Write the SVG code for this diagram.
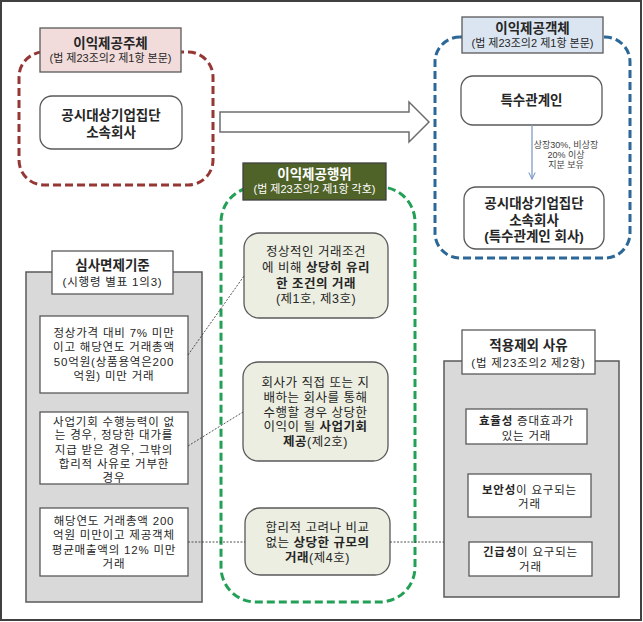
<svg xmlns="http://www.w3.org/2000/svg" width="643" height="622" viewBox="0 0 643 622">
<defs>
<style>
text{font-family:"Liberation Sans","Noto Sans CJK KR",sans-serif;fill:#262626;text-anchor:middle}
.t{font-size:13.5px;font-weight:bold}
.s{font-size:11px}
.g{font-size:12.5px;letter-spacing:0.5px}
.l{font-size:11.5px;letter-spacing:0.8px}
.b{font-weight:bold}
.box{fill:#fff;stroke:#595959;stroke-width:1.3}
.gbox{fill:#ebeee0;stroke:#595959;stroke-width:1.3}
.panel{fill:#d9d9d9;stroke:#595959;stroke-width:1.5}
.dash{fill:none;stroke-width:3;stroke-dasharray:8 4}
.conn{fill:none;stroke:#404040;stroke-width:0.9;stroke-dasharray:2 1.5}
.lab{font-size:9px;fill:#404040}
</style>
<marker id="ah" viewBox="0 0 10 10" refX="9" refY="5" markerWidth="8" markerHeight="8" orient="auto" markerUnits="userSpaceOnUse">
<path d="M1,1 L9,5 L1,9" fill="none" stroke="#7f9cc6" stroke-width="1.3"/>
</marker>
</defs>
<rect x="0" y="0" width="643" height="622" fill="#fff"/>
<rect x="1" y="1" width="640" height="619" fill="none" stroke="#404040" stroke-width="2"/>

<g id="provider">
<rect class="dash" x="19" y="52" width="194" height="133" rx="25" stroke="#953735"/>
<rect x="40" y="28" width="141" height="44" fill="#f2dcdb" stroke="#595959" stroke-width="1.3"/>
<text class="t" x="110.5" y="48">이익제공주체</text>
<text class="s" x="110.5" y="62">(법 제23조의2 제1항 본문)</text>
<rect class="box" x="40" y="96" width="142" height="53" rx="12"/>
<text class="t" x="111" y="120">공시대상기업집단</text>
<text class="t" x="111" y="137">소속회사</text>
</g>

<g id="big-arrow">
<path d="M220,112 L409,112 L409,102 L429,122 L409,142 L409,132 L220,132 Z" fill="#fff" stroke="#6d6d6d" stroke-width="1.5"/>
</g>

<g id="receiver">
<rect class="dash" x="435" y="37" width="195" height="221" rx="25" stroke="#2b6797"/>
<rect x="462" y="17" width="141" height="36" fill="#dbe5f1" stroke="#595959" stroke-width="1.3"/>
<text class="t" x="532.5" y="33">이익제공객체</text>
<text class="s" x="532.5" y="47">(법 제23조의2 제1항 본문)</text>
<rect class="box" x="461" y="76" width="141" height="49" rx="12"/>
<text class="t" x="531.5" y="105">특수관계인</text>
<rect class="box" x="464" y="187" width="140" height="62" rx="12"/>
<text class="t" x="534" y="208">공시대상기업집단</text>
<text class="t" x="534" y="225">소속회사</text>
<text class="t" x="534" y="241">(특수관계인 회사)</text>
</g>

<g id="act">
<rect class="dash" x="221" y="187" width="194" height="415" rx="35" stroke="#22a055"/>
<rect x="243" y="163" width="143" height="37" fill="#4f6228" stroke="#404040" stroke-width="1.3"/>
<text class="t" x="314.5" y="179" style="fill:#fff">이익제공행위</text>
<text class="s" x="314.5" y="193" style="fill:#fff">(법 제23조의2 제1항 각호)</text>
<rect class="gbox" x="244" y="233" width="144" height="85" rx="15"/>
<text class="g" x="316" y="256">정상적인 거래조건</text>
<text class="g" x="316" y="272">에 비해 <tspan class="b">상당히 유리</tspan></text>
<text class="g b" x="316" y="288">한 조건의 거래</text>
<text class="g" x="316" y="303">(제1호, 제3호)</text>
<rect class="gbox" x="243" y="362" width="145" height="99" rx="15"/>
<text class="g" x="315.5" y="387">회사가 직접 또는 지</text>
<text class="g" x="315.5" y="402">배하는 회사를 통해</text>
<text class="g" x="315.5" y="417">수행할 경우 상당한</text>
<text class="g" x="315.5" y="431">이익이 될 <tspan class="b">사업기회</tspan></text>
<text class="g" x="315.5" y="446"><tspan class="b">제공</tspan>(제2호)</text>
<rect class="gbox" x="245" y="508" width="145" height="67" rx="15"/>
<text class="g" x="317.5" y="532">합리적 고려나 비교</text>
<text class="g" x="317.5" y="547">없는 <tspan class="b">상당한 규모의</tspan></text>
<text class="g" x="317.5" y="562"><tspan class="b">거래</tspan>(제4호)</text>
</g>

<g id="exemption">
<rect class="panel" x="26" y="272" width="176" height="330"/>
<rect class="box" x="52" y="251" width="121" height="43"/>
<text class="t" x="112.5" y="270">심사면제기준</text>
<text class="l" x="112.5" y="286">(시행령 별표 1의3)</text>
<rect class="box" x="40" y="316" width="148" height="77"/>
<text class="l" x="114" y="337">정상가격 대비 7% 미만</text>
<text class="l" x="114" y="351">이고 해당연도 거래총액</text>
<text class="l" x="114" y="366">50억원(상품용역은200</text>
<text class="l" x="114" y="380">억원) 미만 거래</text>
<rect class="box" x="40" y="412" width="148" height="72"/>
<text class="l" x="114" y="426">사업기회 수행능력이 없</text>
<text class="l" x="114" y="439">는 경우, 정당한 대가를</text>
<text class="l" x="114" y="454">지급 받은 경우, 그밖의</text>
<text class="l" x="114" y="468">합리적 사유로 거부한</text>
<text class="l" x="114" y="482">경우</text>
<rect class="box" x="40" y="508" width="148" height="68"/>
<text class="l" x="114" y="525">해당연도 거래총액 200</text>
<text class="l" x="114" y="539">억원 미만이고 제공객체</text>
<text class="l" x="114" y="554">평균매출액의 12% 미만</text>
<text class="l" x="114" y="568">거래</text>
</g>

<g id="exclusion">
<rect class="panel" x="444" y="361" width="175" height="236"/>
<rect class="box" x="462" y="330" width="133" height="44"/>
<text class="t" x="528.5" y="350">적용제외 사유</text>
<text class="l" x="528.5" y="367">(법 제23조의2 제2항)</text>
<rect class="box" x="466" y="409" width="121" height="35"/>
<text class="l" x="526.5" y="425"><tspan class="b">효율성</tspan> 증대효과가</text>
<text class="l" x="526.5" y="440">있는 거래</text>
<rect class="box" x="468" y="474" width="123" height="43"/>
<text class="l" x="529.5" y="494"><tspan class="b">보안성</tspan>이 요구되는</text>
<text class="l" x="529.5" y="508">거래</text>
<rect class="box" x="469" y="542" width="123" height="34"/>
<text class="l" x="530.5" y="556"><tspan class="b">긴급성</tspan>이 요구되는</text>
<text class="l" x="530.5" y="571">거래</text>
</g>

<g id="connectors">
<line x1="532" y1="125" x2="532" y2="179" stroke="#7f9cc6" stroke-width="1.3" marker-end="url(#ah)"/>
<text class="lab" x="566" y="148">상장30%, 비상장</text>
<text class="lab" x="566" y="158">20% 이상</text>
<text class="lab" x="566" y="168">지분 보유</text>
<line class="conn" x1="188" y1="355" x2="244" y2="276"/>
<line class="conn" x1="188" y1="446" x2="243" y2="412"/>
<line class="conn" x1="188" y1="542" x2="245" y2="542"/>
<line class="conn" x1="390" y1="542" x2="444" y2="542"/>
</g>
</svg>
